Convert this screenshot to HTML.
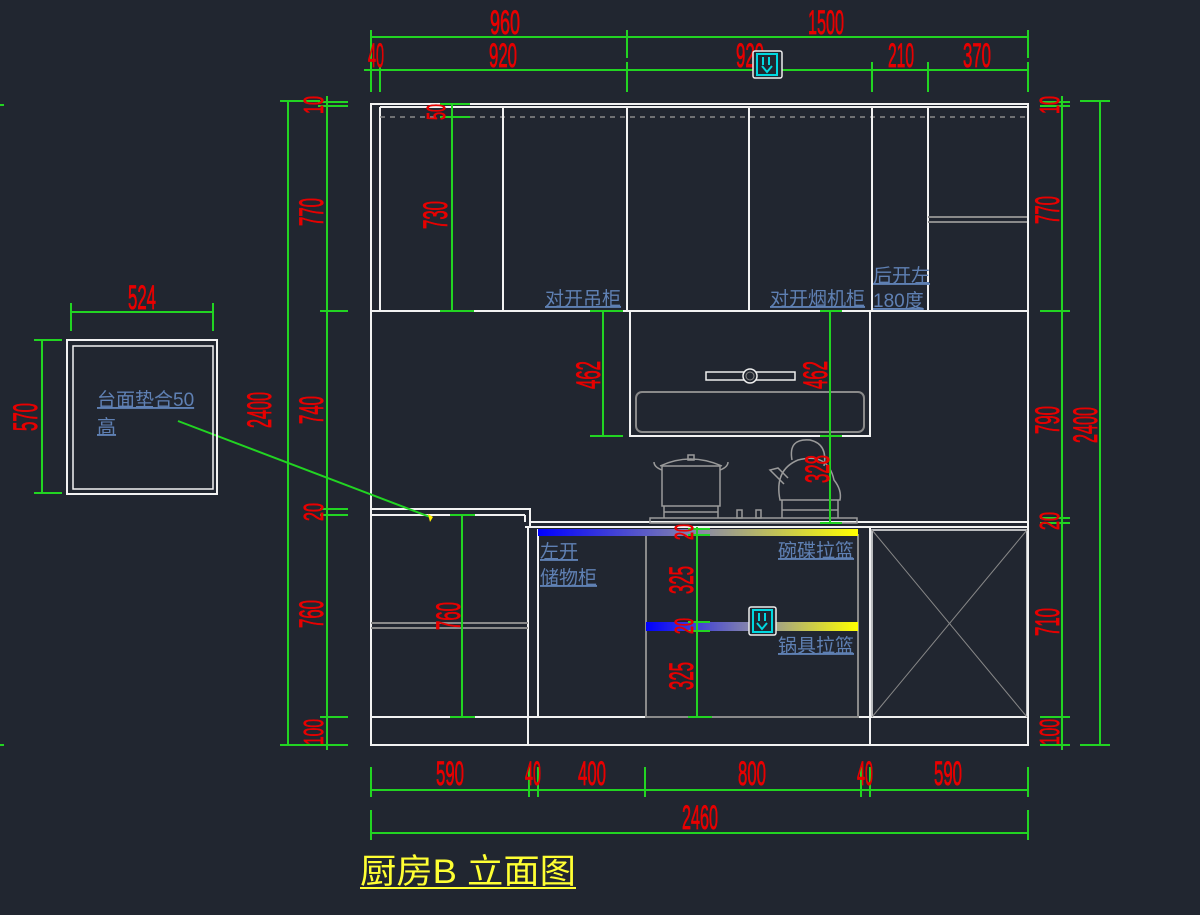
<!DOCTYPE html>
<html><head><meta charset="utf-8"><style>
html,body{margin:0;padding:0;background:#212630;}
svg{display:block}
.w{stroke:#f2f2f2;stroke-width:2;fill:none}
.g{stroke:#8a8a8a;stroke-width:2;fill:none}
.gn{stroke:#22d422;stroke-width:2;fill:none}
.r{fill:#e80000;stroke:#e80000;stroke-width:0.8;font-family:"Liberation Sans",sans-serif;font-size:34px;font-weight:normal}
.b{fill:#5f80b3;font-family:"Liberation Sans","Noto Sans CJK SC",sans-serif;font-size:19px}
</style></head><body>
<svg width="1200" height="915" viewBox="0 0 1200 915" xmlns="http://www.w3.org/2000/svg">
<rect width="1200" height="915" fill="#212630"/>
<defs>
<linearGradient id="by" x1="0" x2="1"><stop offset="0" stop-color="#0000ff"/><stop offset="0.5" stop-color="#8888aa"/><stop offset="1" stop-color="#ffff00"/></linearGradient>
</defs>

<g class="gn">
<line x1="371" y1="37" x2="1028" y2="37"/>
<line x1="371" y1="30" x2="371" y2="92"/><line x1="627" y1="30" x2="627" y2="58"/><line x1="1028" y1="30" x2="1028" y2="58"/>
<line x1="364" y1="70" x2="1028" y2="70"/>
<line x1="380" y1="66" x2="380" y2="92"/><line x1="627" y1="62" x2="627" y2="92"/><line x1="872" y1="62" x2="872" y2="92"/><line x1="928" y1="62" x2="928" y2="92"/><line x1="1028" y1="62" x2="1028" y2="92"/>
</g>
<g class="r" text-anchor="middle">
<text x="505" y="34" textLength="30" lengthAdjust="spacingAndGlyphs">960</text>
<text x="826" y="34" textLength="36" lengthAdjust="spacingAndGlyphs">1500</text>
<text x="376" y="67" textLength="16" lengthAdjust="spacingAndGlyphs">40</text>
<text x="503" y="67" textLength="28" lengthAdjust="spacingAndGlyphs">920</text>
<text x="750" y="67" textLength="28" lengthAdjust="spacingAndGlyphs">920</text>
<text x="901" y="67" textLength="26" lengthAdjust="spacingAndGlyphs">210</text>
<text x="977" y="67" textLength="28" lengthAdjust="spacingAndGlyphs">370</text>
</g>
<rect x="753" y="51" width="29" height="27" fill="#212630" stroke="#eee" stroke-width="1.5" rx="2"/>
<rect x="757" y="54" width="20" height="21" fill="none" stroke="#00d8e0" stroke-width="2"/>
<path d="M763 57 v8 M769 57 v8 M762 66 l5 6 l5 -6" stroke="#00d8e0" stroke-width="2" fill="none"/>

<rect x="371" y="104" width="657" height="641" class="w"/>
<line x1="380" y1="107" x2="380" y2="311" class="w"/>
<line x1="380" y1="107" x2="1027" y2="107" class="w"/>
<line x1="380" y1="117" x2="1027" y2="117" stroke="#8a8a8a" stroke-width="1.5" stroke-dasharray="5,5"/>
<g class="w">
<line x1="503" y1="107" x2="503" y2="311"/>
<line x1="627" y1="107" x2="627" y2="311"/>
<line x1="749" y1="107" x2="749" y2="311"/>
<line x1="872" y1="107" x2="872" y2="311"/>
<line x1="928" y1="107" x2="928" y2="311"/>
<line x1="371" y1="311" x2="1028" y2="311"/>
</g>
<line x1="928" y1="217" x2="1027" y2="217" class="g"/>
<line x1="928" y1="222" x2="1027" y2="222" class="g"/>

<rect x="630" y="311" width="240" height="125" class="w"/>
<rect x="636" y="392" width="228" height="40" rx="6" class="g"/>
<rect x="706" y="372" width="89" height="8" fill="none" stroke="#eee" stroke-width="1.5"/>
<circle cx="750" cy="376" r="7" fill="#212630" stroke="#eee" stroke-width="1.5"/>
<circle cx="750" cy="376" r="4" fill="none" stroke="#888" stroke-width="1"/>

<g class="w">
<path d="M371 509 H530 V527"/>
<line x1="371" y1="515" x2="525" y2="515"/>
<path d="M525 515 V522"/>
<line x1="530" y1="522" x2="1028" y2="522"/>
<line x1="525" y1="527" x2="1028" y2="527"/>
</g>

<g stroke="#9a9a9a" stroke-width="1.5" fill="none">
<rect x="650" y="518" width="207" height="5"/>
<rect x="662" y="466" width="58" height="40"/>
<path d="M660 466 Q690 452 722 466"/>
<rect x="688" y="455" width="6" height="5"/>
<path d="M662 470 q-8 -3 -8 -8 M720 470 q8 -3 8 -8"/>
<path d="M664 506 v12 M718 506 v12 M664 512 h54"/>
<path d="M780 500 q-6 -30 18 -40 q30 -8 36 20 q8 10 6 20 z"/>
<path d="M792 460 q-4 -22 18 -20 q18 4 14 26"/>
<path d="M784 484 l-14 -14 l8 -2 l10 10"/>
<path d="M782 500 v18 M838 500 v18 M782 510 h56"/>
<rect x="737" y="510" width="5" height="8"/><rect x="756" y="510" width="5" height="8"/>
</g>

<g class="w">
<line x1="528" y1="527" x2="528" y2="745"/>
<line x1="538" y1="529" x2="538" y2="717"/>
<line x1="870" y1="527" x2="870" y2="745"/>
<line x1="371" y1="717" x2="1028" y2="717"/>
</g>
<line x1="371" y1="623" x2="528" y2="623" class="g"/>
<line x1="371" y1="628" x2="528" y2="628" class="g"/>
<rect x="646" y="535" width="212" height="182" class="g"/>
<rect x="538" y="529" width="320" height="7" fill="url(#by)"/>
<rect x="646" y="622" width="212" height="9" fill="url(#by)"/>
<rect x="872" y="530" width="155" height="187" fill="none" stroke="#eee" stroke-width="1.5"/>
<line x1="872" y1="530" x2="1027" y2="717" stroke="#888" stroke-width="1"/>
<line x1="1027" y1="530" x2="872" y2="717" stroke="#888" stroke-width="1"/>

<rect x="749" y="607" width="27" height="28" fill="#212630" stroke="#eee" stroke-width="1.5" rx="2"/>
<rect x="753" y="610" width="19" height="22" fill="none" stroke="#00d8e0" stroke-width="2"/>
<path d="M759 613 v8 M765 613 v8 M757 623 l5 6 l5 -6" stroke="#00d8e0" stroke-width="2" fill="none"/>

<g class="gn">
<line x1="452" y1="104" x2="452" y2="311"/>
<line x1="440" y1="104" x2="470" y2="104"/><line x1="440" y1="117" x2="470" y2="117"/><line x1="440" y1="311" x2="474" y2="311"/>
<line x1="603" y1="311" x2="603" y2="436"/>
<line x1="590" y1="311" x2="623" y2="311"/><line x1="590" y1="436" x2="623" y2="436"/>
<line x1="830" y1="311" x2="830" y2="524"/>
<line x1="820" y1="311" x2="842" y2="311"/><line x1="820" y1="436" x2="842" y2="436"/><line x1="820" y1="523" x2="842" y2="523"/>
<line x1="462" y1="515" x2="462" y2="717"/>
<line x1="450" y1="515" x2="475" y2="515"/><line x1="450" y1="717" x2="475" y2="717"/>
<line x1="697" y1="527" x2="697" y2="717"/>
<line x1="688" y1="529" x2="710" y2="529"/><line x1="688" y1="535" x2="710" y2="535"/><line x1="688" y1="622" x2="710" y2="622"/><line x1="688" y1="631" x2="710" y2="631"/><line x1="688" y1="717" x2="712" y2="717"/>
<line x1="178" y1="421" x2="430" y2="517"/>
</g>
<path d="M428 514 l5 3 l-3 5 z" fill="#ffee00"/>
<g class="r" text-anchor="middle">
<text transform="translate(445,112) rotate(-90)" font-size="26" textLength="16" lengthAdjust="spacingAndGlyphs">50</text>
<text transform="translate(447,215) rotate(-90)" textLength="28" lengthAdjust="spacingAndGlyphs">730</text>
<text transform="translate(600,375) rotate(-90)" textLength="28" lengthAdjust="spacingAndGlyphs">462</text>
<text transform="translate(827,375) rotate(-90)" textLength="28" lengthAdjust="spacingAndGlyphs">462</text>
<text transform="translate(829,469) rotate(-90)" textLength="28" lengthAdjust="spacingAndGlyphs">328</text>
<text transform="translate(460,616) rotate(-90)" textLength="28" lengthAdjust="spacingAndGlyphs">760</text>
<text transform="translate(693,532) rotate(-90)" font-size="26" textLength="16" lengthAdjust="spacingAndGlyphs">20</text>
<text transform="translate(693,580) rotate(-90)" textLength="28" lengthAdjust="spacingAndGlyphs">325</text>
<text transform="translate(693,626) rotate(-90)" font-size="26" textLength="16" lengthAdjust="spacingAndGlyphs">20</text>
<text transform="translate(693,676) rotate(-90)" textLength="28" lengthAdjust="spacingAndGlyphs">325</text>
</g>

<g class="b" text-decoration="underline">
<text x="545" y="305">对开吊柜</text>
<text x="770" y="305">对开烟机柜</text>
<text x="873" y="282">后开左</text>
<text x="873" y="307">180度</text>
<text x="540" y="558">左开</text>
<text x="540" y="584">储物柜</text>
<text x="778" y="557">碗碟拉篮</text>
<text x="778" y="652">锅具拉篮</text>
<text x="97" y="406">台面垫合50</text>
<text x="97" y="433">高</text>
</g>

<g class="gn">
<line x1="288" y1="101" x2="288" y2="745"/>
<line x1="280" y1="101" x2="320" y2="101"/><line x1="280" y1="745" x2="320" y2="745"/>
<line x1="327" y1="96" x2="327" y2="750"/>
<line x1="318" y1="102" x2="348" y2="102"/><line x1="318" y1="106" x2="348" y2="106"/>
<line x1="320" y1="311" x2="348" y2="311"/>
<line x1="320" y1="509" x2="348" y2="509"/><line x1="320" y1="515" x2="348" y2="515"/>
<line x1="320" y1="717" x2="348" y2="717"/><line x1="320" y1="745" x2="348" y2="745"/>
</g>
<g class="r" text-anchor="middle">
<text transform="translate(323,105) rotate(-90)" font-size="28" textLength="18" lengthAdjust="spacingAndGlyphs">10</text>
<text transform="translate(323,212) rotate(-90)" textLength="28" lengthAdjust="spacingAndGlyphs">770</text>
<text transform="translate(271,410) rotate(-90)" textLength="36" lengthAdjust="spacingAndGlyphs">2400</text>
<text transform="translate(323,410) rotate(-90)" textLength="28" lengthAdjust="spacingAndGlyphs">740</text>
<text transform="translate(323,512) rotate(-90)" font-size="28" textLength="18" lengthAdjust="spacingAndGlyphs">20</text>
<text transform="translate(323,614) rotate(-90)" textLength="28" lengthAdjust="spacingAndGlyphs">760</text>
<text transform="translate(323,732) rotate(-90)" font-size="28" textLength="26" lengthAdjust="spacingAndGlyphs">100</text>
</g>

<g class="gn">
<line x1="1062" y1="96" x2="1062" y2="750"/>
<line x1="1040" y1="102" x2="1070" y2="102"/><line x1="1040" y1="106" x2="1070" y2="106"/>
<line x1="1040" y1="311" x2="1070" y2="311"/>
<line x1="1040" y1="518" x2="1070" y2="518"/><line x1="1040" y1="523" x2="1070" y2="523"/>
<line x1="1040" y1="717" x2="1070" y2="717"/><line x1="1040" y1="745" x2="1070" y2="745"/>
<line x1="1100" y1="101" x2="1100" y2="745"/>
<line x1="1080" y1="101" x2="1110" y2="101"/><line x1="1080" y1="745" x2="1110" y2="745"/>
</g>
<g class="r" text-anchor="middle">
<text transform="translate(1059,105) rotate(-90)" font-size="28" textLength="18" lengthAdjust="spacingAndGlyphs">10</text>
<text transform="translate(1059,210) rotate(-90)" textLength="28" lengthAdjust="spacingAndGlyphs">770</text>
<text transform="translate(1059,420) rotate(-90)" textLength="28" lengthAdjust="spacingAndGlyphs">790</text>
<text transform="translate(1097,425) rotate(-90)" textLength="36" lengthAdjust="spacingAndGlyphs">2400</text>
<text transform="translate(1059,521) rotate(-90)" font-size="28" textLength="18" lengthAdjust="spacingAndGlyphs">20</text>
<text transform="translate(1059,622) rotate(-90)" textLength="28" lengthAdjust="spacingAndGlyphs">710</text>
<text transform="translate(1059,732) rotate(-90)" font-size="28" textLength="26" lengthAdjust="spacingAndGlyphs">100</text>
</g>

<g class="gn">
<line x1="371" y1="790" x2="1028" y2="790"/>
<line x1="371" y1="767" x2="371" y2="797"/><line x1="529" y1="767" x2="529" y2="797"/><line x1="538" y1="767" x2="538" y2="797"/>
<line x1="645" y1="767" x2="645" y2="797"/><line x1="861" y1="767" x2="861" y2="797"/><line x1="870" y1="767" x2="870" y2="797"/><line x1="1028" y1="767" x2="1028" y2="797"/>
<line x1="371" y1="833" x2="1028" y2="833"/>
<line x1="371" y1="810" x2="371" y2="840"/><line x1="1028" y1="810" x2="1028" y2="840"/>
</g>
<g class="r" text-anchor="middle">
<text x="450" y="785" textLength="28" lengthAdjust="spacingAndGlyphs">590</text>
<text x="533" y="785" textLength="16" lengthAdjust="spacingAndGlyphs">40</text>
<text x="592" y="785" textLength="28" lengthAdjust="spacingAndGlyphs">400</text>
<text x="752" y="785" textLength="28" lengthAdjust="spacingAndGlyphs">800</text>
<text x="865" y="785" textLength="16" lengthAdjust="spacingAndGlyphs">40</text>
<text x="948" y="785" textLength="28" lengthAdjust="spacingAndGlyphs">590</text>
<text x="700" y="829" textLength="36" lengthAdjust="spacingAndGlyphs">2460</text>
</g>

<text x="360" y="883" fill="#ffff33" font-family="'Liberation Sans','Noto Sans CJK SC',sans-serif" font-size="34" textLength="216" lengthAdjust="spacingAndGlyphs">厨房B 立面图</text>
<line x1="360" y1="888" x2="576" y2="888" stroke="#ffff33" stroke-width="2"/>

<rect x="67" y="340" width="150" height="154" class="w"/>
<rect x="73" y="346" width="140" height="143" fill="none" stroke="#f2f2f2" stroke-width="1.5"/>
<g class="gn">
<line x1="71" y1="312" x2="213" y2="312"/>
<line x1="71" y1="303" x2="71" y2="331"/><line x1="213" y1="303" x2="213" y2="331"/>
<line x1="42" y1="340" x2="42" y2="494"/>
<line x1="34" y1="340" x2="62" y2="340"/><line x1="34" y1="493" x2="62" y2="493"/>
<line x1="0" y1="105" x2="4" y2="105"/><line x1="0" y1="745" x2="4" y2="745"/>
</g>
<g class="r" text-anchor="middle">
<text x="142" y="309" textLength="28" lengthAdjust="spacingAndGlyphs">524</text>
<text transform="translate(37,417) rotate(-90)" textLength="28" lengthAdjust="spacingAndGlyphs">570</text>
</g>
</svg>
</body></html>
